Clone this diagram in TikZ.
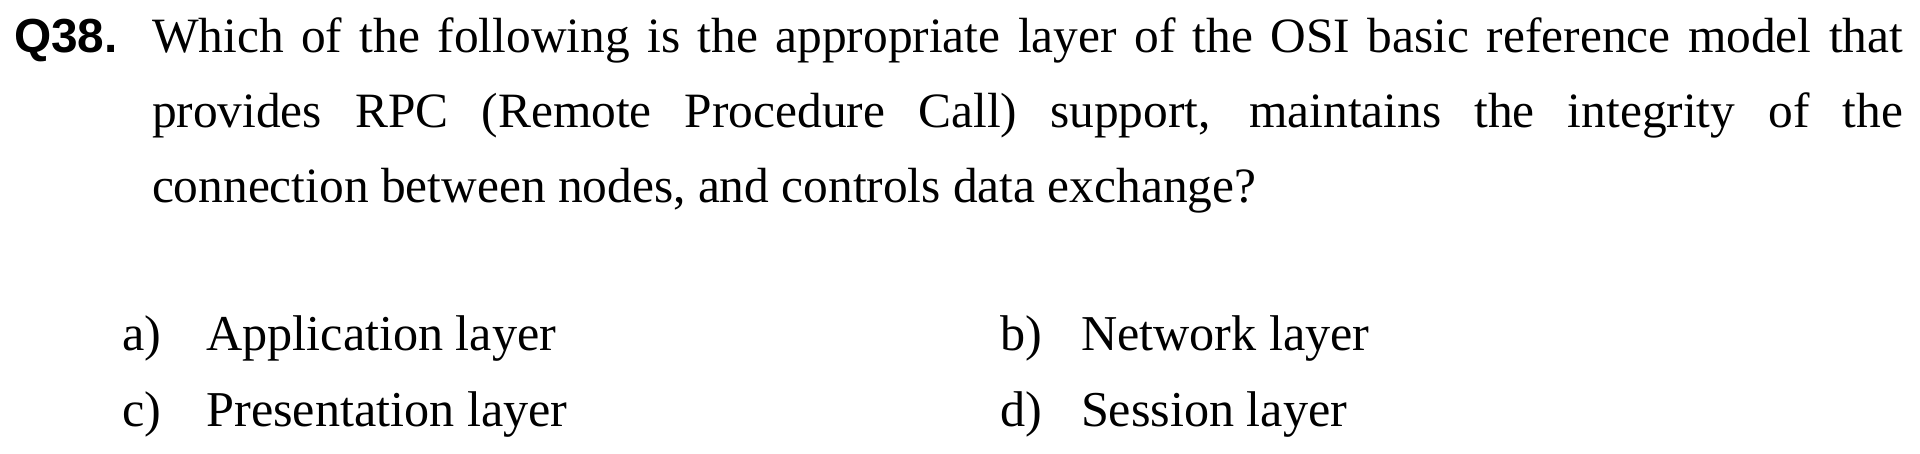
\documentclass[tikz,border=0pt]{standalone}
\usepackage{fontspec}
\setmainfont{Liberation Serif}
\newfontfamily\qlabelfont{Liberation Sans}
\begin{document}
\begin{tikzpicture}[x=1pt,y=1pt,
  txt/.style={inner sep=0pt, outer sep=0pt, anchor=base west, font=\fontsize{24.7}{30}\selectfont},
  opt/.style={inner sep=0pt, outer sep=0pt, anchor=base west, font=\fontsize{25.1}{30}\selectfont},
  qlab/.style={inner sep=0pt, outer sep=0pt, anchor=base west, font=\qlabelfont\bfseries\fontsize{23.9}{28}\selectfont}]
\useasboundingbox[fill=white] (0,0) rectangle (960,227);
\node[qlab] (q) at (7.0,200.75) {Q38.};
\node[txt] (l1) at (76,200.75) {\makebox[875.5pt][s]{Which of the following is the appropriate layer of the OSI basic reference model that}};
\node[txt] (l2) at (76,163.25) {\makebox[875.5pt][s]{provides RPC (Remote Procedure Call) support, maintains the integrity of the}};
\node[txt] (l3) at (76,125.75) {connection between nodes, and controls data exchange?};
\node[opt] (oa) at (61.2,51.5) {a)};
\node[opt] (ta) at (103.2,51.5) {Application layer};
\node[opt] (ob) at (500.3,51.5) {b)};
\node[opt] (tb) at (540.5,51.5) {Network layer};
\node[opt] (oc) at (61.2,13.75) {c)};
\node[opt] (tc) at (103.2,13.75) {Presentation layer};
\node[opt] (od) at (500.3,13.75) {d)};
\node[opt] (td) at (540.5,13.75) {Session layer};
\end{tikzpicture}
\end{document}
